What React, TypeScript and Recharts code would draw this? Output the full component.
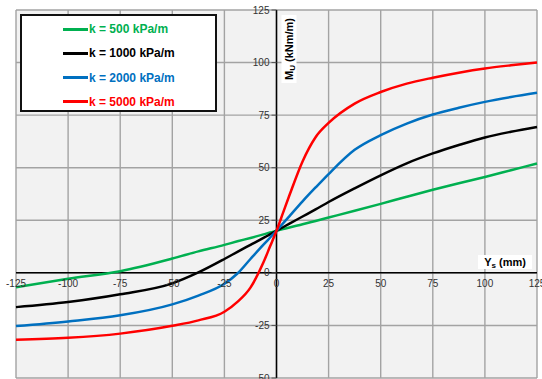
import { CartesianGrid, Line, LineChart, ReferenceDot, ReferenceLine, XAxis, YAxis } from "recharts";

// horizontal displacement Ys (mm)
const ysMm = [
  -125, -100, -75, -50, -37.5, -25, -18.75, -12.5, -6.25, -3.125, 0, 3.125, 6.25, 12.5, 18.75, 25, 37.5, 50, 62.5, 75,
  87.5, 100, 112.5, 125,
];

// moment Mu (kNm/m) per subgrade modulus
const k500 = [
  -6.8, -2.8, 0.8, 6.8, 10.2, 13.3, 15, 16.6, 18.3, 19.2, 20, 20.8, 21.6, 23.1, 24.7, 26.3, 29.5, 32.8, 36.2, 39.5, 42.6,
  45.6, 48.8, 52,
];
const k1000 = [
  -16.3, -13.9, -10.2, -5, 0.2, 6.6, 10, 13.3, 16.6, 18.3, 20, 21.7, 23.4, 26.8, 30.2, 33.7, 40.2, 46.4, 52.1, 56.8,
  60.8, 64.4, 67.1, 69.4,
];
const k2000 = [
  -25.3, -23.1, -20.2, -15, -10.8, -5.2, -0.3, 6.6, 13.4, 16.7, 20, 23.5, 27, 34, 40.6, 47, 58.5, 65.5, 71, 75.3, 78.5,
  81.3, 83.6, 85.6,
];
const k5000 = [
  -31.8, -30.9, -28.9, -25.2, -22.6, -18.5, -13.8, -7, 5, 12.5, 20, 28.5, 37, 53, 64.5, 71.3, 80.5, 86, 90, 92.8, 95.2,
  97.2, 98.7, 100,
];

const xTicks = [-125, -100, -75, -50, -25, 0, 25, 50, 75, 100, 125];
const yTicks = [-50, -25, 0, 25, 50, 75, 100, 125];

const series = [
  { key: "k500", name: "k = 500 kPa/m", color: "#00b050" },
  { key: "k1000", name: "k = 1000 kPa/m", color: "#000000" },
  { key: "k2000", name: "k = 2000 kPa/m", color: "#0070c0" },
  { key: "k5000", name: "k = 5000 kPa/m", color: "#ff0000" },
];

const FONT = "Arial, 'Liberation Sans', sans-serif";
const TICK_COLOR = "#333333";
const GRID_COLOR = "#a3a3a3";

const data = ysMm.map((ys, i) => ({
  ys,
  k500: k500[i],
  k1000: k1000[i],
  k2000: k2000[i],
  k5000: k5000[i],
}));

export default function App() {
  return (
    <div style={{ position: "absolute", left: 0, top: 0, width: 542, height: 379, background: "#fff", fontFamily: FONT }}>
      <LineChart width={542} height={379} data={data} margin={{ top: 10, right: 5, bottom: 1, left: 16 }}>
        <CartesianGrid stroke={GRID_COLOR} strokeWidth={1.4} fill="#f2f2f2" />
        <XAxis dataKey="ys" type="number" domain={[-125, 125]} ticks={xTicks} hide />
        <YAxis type="number" domain={[-50, 125]} ticks={yTicks} hide />
        <ReferenceLine y={0} stroke="#000" strokeWidth={1.5} />
        <ReferenceLine x={0} stroke="#000" strokeWidth={1.5} />
        {xTicks.map((t) => (
          <ReferenceDot
            key={`x${t}`}
            x={t}
            y={0}
            r={0}
            shape={(p: any) => (
              <text x={p.cx} y={p.cy + 14} textAnchor="middle" fontSize={10} fill={TICK_COLOR} fontFamily={FONT}>
                {t}
              </text>
            )}
          />
        ))}
        {yTicks.map((t) => (
          <ReferenceDot
            key={`y${t}`}
            x={0}
            y={t}
            r={0}
            shape={(p: any) => (
              <g>
                <line x1={p.cx - 5} x2={p.cx} y1={p.cy} y2={p.cy} stroke="#555" strokeWidth={1} />
                <text x={p.cx - 7} y={p.cy + 3.5} textAnchor="end" fontSize={10} fill={TICK_COLOR} fontFamily={FONT}>
                  {t}
                </text>
              </g>
            )}
          />
        ))}
        {series.map((s) => (
          <Line
            key={s.key}
            type="monotone"
            dataKey={s.key}
            stroke={s.color}
            strokeWidth={2.5}
            dot={false}
            activeDot={false}
            isAnimationActive={false}
          />
        ))}
      </LineChart>

      {/* legend box */}
      <div
        style={{
          position: "absolute",
          left: 20,
          top: 14,
          width: 193,
          height: 94,
          border: "2px solid #111",
          background: "#fff",
        }}
      >
        {series.map((s, i) => (
          <div
            key={s.key}
            style={{
              position: "absolute",
              left: 41,
              top: 5 + i * 24.3,
              height: 16,
              display: "flex",
              alignItems: "center",
              color: s.color,
              fontSize: 12,
              fontWeight: 700,
              whiteSpace: "nowrap",
            }}
          >
            <span style={{ display: "inline-block", width: 25, height: 3, background: s.color, marginRight: 1 }} />
            {s.name}
          </div>
        ))}
      </div>

      {/* y axis title */}
      <div
        style={{
          position: "absolute",
          left: 289,
          top: 49,
          transform: "translate(-50%, -50%) rotate(-90deg)",
          background: "#fff",
          padding: "1px 3px",
          fontSize: 11,
          fontWeight: 700,
          whiteSpace: "nowrap",
          lineHeight: "13px",
        }}
      >
        M<sub style={{ fontSize: 8, verticalAlign: "-2px", lineHeight: 0 }}>U</sub> (kNm/m)
      </div>

      {/* x axis title */}
      <div
        style={{
          position: "absolute",
          left: 478,
          top: 255,
          width: 54,
          height: 14,
          background: "#fff",
          fontSize: 11,
          fontWeight: 700,
          whiteSpace: "nowrap",
          lineHeight: "14px",
          textAlign: "center",
        }}
      >
        Y<sub style={{ fontSize: 8, verticalAlign: "-2px", lineHeight: 0 }}>s</sub> (mm)
      </div>
    </div>
  );
}
